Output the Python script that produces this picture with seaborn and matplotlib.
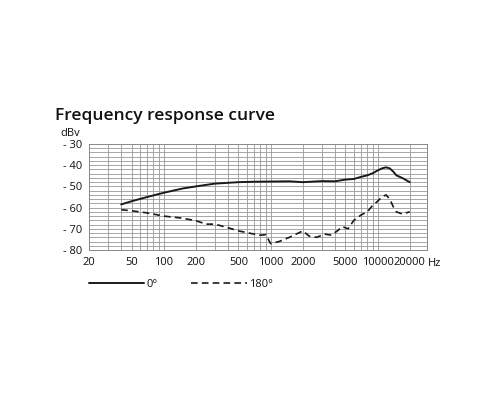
import matplotlib
matplotlib.use("Agg")
import matplotlib.pyplot as plt
import seaborn as sns
import numpy as np
import pandas as pd
from matplotlib.lines import Line2D

sns.set_style("white")
plt.rcParams['font.family'] = ['Open Sans', 'DejaVu Sans']
plt.rcParams['text.color'] = '#111111'
plt.rcParams['xtick.color'] = '#111111'
plt.rcParams['ytick.color'] = '#111111'

freq0 = [40, 50, 70, 100, 150, 200, 300, 500, 700, 1000, 1500, 2000, 3000, 4000, 5000, 6000, 7000, 8000, 9000, 10000, 11000, 12000, 13000, 14000, 15000, 17000, 20000]
db0 = [-58.5, -57, -55, -53, -51, -50, -48.7, -48, -47.8, -47.7, -47.6, -48, -47.5, -47.6, -46.8, -46.5, -45.5, -44.8, -43.8, -42.5, -41.5, -41, -41.5, -43, -44.8, -46, -48]
freq180 = [40, 50, 70, 100, 150, 200, 250, 300, 400, 500, 600, 700, 800, 900, 1000, 1200, 1500, 2000, 2300, 2700, 3200, 3700, 4200, 4700, 5300, 6000, 7000, 8000, 9000, 10000, 11000, 12000, 13000, 14000, 15000, 17000, 20000]
db180 = [-61, -61.5, -62.5, -64, -65, -66.2, -67.8, -67.8, -69.5, -71, -71.8, -72.5, -73, -72.8, -77, -76, -74, -71, -73.5, -74, -72.5, -73, -71, -69, -70, -66, -63.5, -62, -59, -57, -55, -54, -56, -59.5, -62, -63, -62]
xticks = [20, 50, 100, 200, 500, 1000, 2000, 5000, 10000, 20000]
yticks = [-30, -40, -50, -60, -70, -80]

fig = plt.figure(figsize=(5, 4), dpi=100)
ax = fig.add_axes([0.178, 0.375, 0.676, 0.265])
df0 = pd.DataFrame({"f": freq0, "db": db0})
df1 = pd.DataFrame({"f": freq180, "db": db180})
sns.lineplot(data=df0, x="f", y="db", ax=ax, color="#1a1a1a", lw=1.4)
sns.lineplot(data=df1, x="f", y="db", ax=ax, color="#1a1a1a", lw=1.2, linestyle=(0, (4, 2.5)))
ax.set_xscale("log")
ax.set_xlim(20, 29000)
ax.set_ylim(-80, -30)
vg = [m * 10**e for e in range(1, 5) for m in range(1, 10)]
for v in vg:
    if 20 < v < 29000:
        ax.axvline(v, color="#999999", lw=0.6, zorder=0)
for v in range(-78, -30, 2):
    ax.axhline(v, color="#999999", lw=0.6, zorder=0)
ax.set_xticks(xticks)
ax.set_xticklabels([str(t) for t in xticks], fontsize=8)
ax.minorticks_off()
ax.set_yticks(yticks)
ax.set_yticklabels(["- " + str(-t) for t in yticks], fontsize=8)
ax.tick_params(length=3, width=0.6, pad=2)
for s in ax.spines.values():
    s.set_color("#888888"); s.set_linewidth(0.7)
ax.set_xlabel(""); ax.set_ylabel("")
fig.text(0.855, 0.342, "Hz", fontsize=8, va="center")
fig.text(0.12, 0.66, "dBv", fontsize=8)
fig.text(0.11, 0.70, "Frequency response curve", fontsize=12.5, fontweight="semibold")
ax.legend(handles=[Line2D([], [], color="#1a1a1a", lw=1.4, label="0°"),
                   Line2D([], [], color="#1a1a1a", lw=1.2, linestyle=(0, (4, 2.5)), label="180°")],
          loc="upper left", bbox_to_anchor=(-0.03, -0.18), ncol=2, frameon=False,
          fontsize=8, handlelength=5, columnspacing=3, handletextpad=0.2)
fig.savefig("out.png")
